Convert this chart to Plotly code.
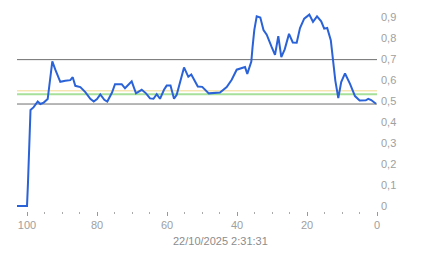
import plotly.graph_objects as go

# Data (x = age units, counting down to 0 at right)
x_vals = [102.86, 100.0, 99.71, 99.43, 99.0, 98.09, 96.94, 96.2, 95.23, 94.09,
          93.51, 92.77, 91.91, 90.49, 89.06, 87.63, 86.94, 86.2, 84.77, 83.34,
          81.91, 80.94, 80.0, 79.06, 77.91, 77.06, 75.71, 74.86, 72.94, 72.0,
          70.09, 68.86, 67.23, 66.0, 64.86, 63.86, 62.94, 62.0, 60.86, 60.09,
          59.0, 58.0, 57.23, 55.14, 53.91, 53.06, 51.2, 49.94, 48.06, 47.0,
          44.86, 42.94, 41.51, 40.09, 38.66, 37.71, 37.06, 35.91, 35.57, 35.06,
          34.37, 33.34, 32.43, 31.51, 30.14, 29.14, 28.2, 27.34, 26.37, 25.14,
          24.06, 22.94, 22.0, 20.8, 19.34, 18.29, 17.14, 15.94, 15.09, 14.23,
          13.2, 12.49, 11.91, 11.06, 10.23, 9.14, 7.71, 6.29, 4.97, 3.2,
          2.49, 1.66, 0.29]
y_vals = [0.0, 0.0, 0.115, 0.244, 0.459, 0.472, 0.499, 0.487, 0.494, 0.511,
          0.587, 0.691, 0.651, 0.593, 0.598, 0.601, 0.615, 0.574, 0.568, 0.544,
          0.512, 0.499, 0.511, 0.533, 0.507, 0.499, 0.542, 0.582, 0.582, 0.562,
          0.595, 0.538, 0.555, 0.538, 0.514, 0.512, 0.534, 0.512, 0.555, 0.575,
          0.575, 0.512, 0.531, 0.662, 0.617, 0.628, 0.571, 0.569, 0.538, 0.539,
          0.542, 0.568, 0.603, 0.651, 0.660, 0.664, 0.631, 0.690, 0.756, 0.840,
          0.906, 0.900, 0.840, 0.818, 0.761, 0.722, 0.811, 0.711, 0.748, 0.822,
          0.781, 0.780, 0.850, 0.895, 0.914, 0.880, 0.906, 0.882, 0.847, 0.850,
          0.792, 0.690, 0.599, 0.515, 0.592, 0.633, 0.583, 0.525, 0.504, 0.505,
          0.512, 0.506, 0.488]

upper_limit = 0.699
lower_limit = 0.487
yellow_level = 0.550
green_level = 0.534

x_ticks = [100, 80, 60, 40, 20, 0]
y_ticks = [0, 0.1, 0.2, 0.3, 0.4, 0.5, 0.6, 0.7, 0.8, 0.9]
timestamp = "22/10/2025 2:31:31"

fig = go.Figure()

fig.add_trace(go.Scatter(x=x_vals, y=y_vals, mode="lines",
                         line=dict(color="#2a62d8", width=2),
                         hoverinfo="skip", showlegend=False))

def hline(y, color, width):
    fig.add_shape(type="line", xref="paper", yref="y", x0=0, x1=1, y0=y, y1=y,
                  line=dict(color=color, width=width), layer="below")

hline(upper_limit, "#6e6e6e", 1)
hline(lower_limit, "#6e6e6e", 1)
hline(yellow_level, "#f2d98c", 1)
hline(green_level, "#a6e09a", 2)

fig.add_annotation(text=timestamp, xref="paper", yref="paper",
                   x=0.564, y=-0.145, yanchor="middle", xanchor="center",
                   showarrow=False, font=dict(size=11, color="#8c8c8c",
                                              family="Liberation Sans, Arial, sans-serif"))

fig.update_layout(
    width=443, height=258,
    margin=dict(l=17, r=66, t=5, b=47),
    paper_bgcolor="white", plot_bgcolor="white",
    separators=",.",
    font=dict(family="Liberation Sans, Arial, sans-serif", size=11, color="#a0a0a0"),
    xaxis=dict(range=[102.86, 0], tickvals=x_ticks, showgrid=False, zeroline=False,
               showline=False, ticks="outside", ticklen=4, tickcolor="#999999",
               tickwidth=1,
               minor=dict(dtick=5, tick0=0, ticks="outside", ticklen=2,
                          tickcolor="#aaaaaa", showgrid=False),
               tickfont=dict(size=11, color="#a0a0a0")),
    yaxis=dict(range=[-0.024, 0.96], tickvals=y_ticks, side="right",
               showgrid=False, zeroline=False, showline=False, ticks="",
               ticklabelstandoff=3,
               tickfont=dict(size=11, color="#a0a0a0")),
)

fig.write_html("out.html")
